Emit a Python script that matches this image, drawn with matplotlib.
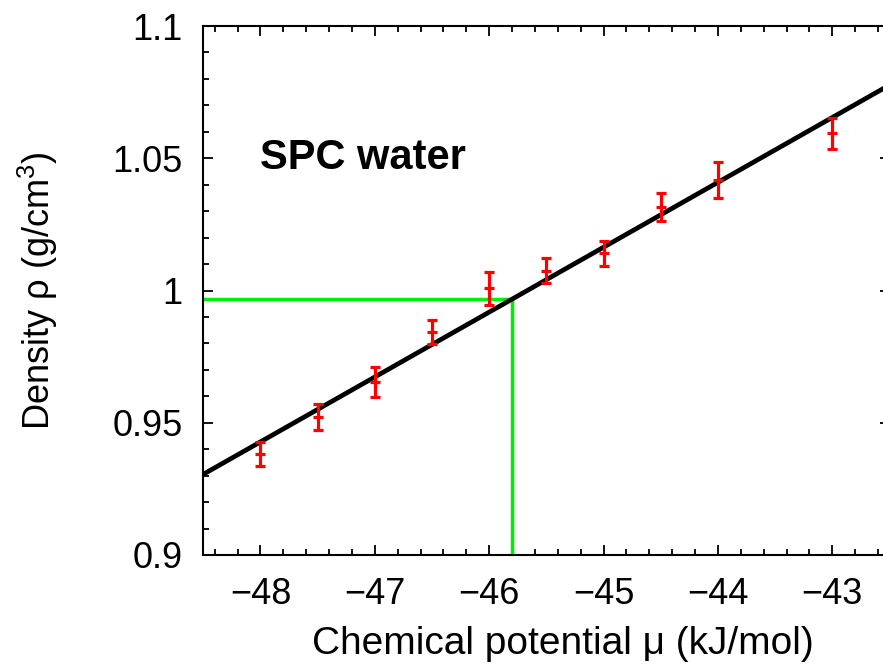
import numpy as np
import matplotlib
matplotlib.use("Agg")
from matplotlib import pyplot as plt
from matplotlib.ticker import MultipleLocator

plt.rcParams['font.family'] = ['Liberation Sans', 'DejaVu Sans']
plt.rcParams['mathtext.fontset'] = 'custom'
plt.rcParams['mathtext.rm'] = 'Liberation Sans'
plt.rcParams['mathtext.default'] = 'regular'

# измеренные точки: химпотенциал, плотность, погрешность
mu = [-48.0, -47.5, -47.0, -46.5, -46.0, -45.5, -45.0, -44.5, -44.0, -43.0]
rho = [0.9382, 0.9523, 0.9655, 0.9844, 1.0008, 1.0075, 1.0141, 1.0315, 1.0418, 1.0594]
rho_err = [0.0046, 0.0049, 0.0057, 0.0045, 0.0063, 0.0047, 0.0047, 0.0054, 0.0069, 0.0059]

# линейная аппроксимация
fit_mu = [-48.5, -42.5]
fit_rho = [0.9305, 1.0777]

# точка пересечения (плотность 0.9968)
mu_cross = -45.80
rho_cross = 0.9968

fig = plt.figure(figsize=(8.83, 6.64), dpi=100)
ax = fig.add_axes([0.2302, 0.1642, 0.7772, 0.7966])

ax.plot([fit_mu[0], mu_cross], [rho_cross, rho_cross], color='#00ee00', lw=2.5, zorder=2)
ax.plot([mu_cross, mu_cross], [0.9, rho_cross], color='#00ee00', lw=2.5, zorder=2)
ax.plot(fit_mu, fit_rho, color='k', lw=3.4, zorder=3)
ax.errorbar(mu, rho, yerr=rho_err, fmt='_', color='#ff0000', ecolor='#ff0000',
            elinewidth=2.3, capsize=3.5, capthick=2.3, markersize=7, mew=2.3, zorder=4)

ax.text(-48.0, 1.05, 'SPC water', fontsize=30, fontweight='bold', ha='left', va='center')

ax.set_xlim(-48.5, -42.5)
ax.set_ylim(0.9, 1.1)
ax.xaxis.set_major_locator(MultipleLocator(1))
ax.xaxis.set_minor_locator(MultipleLocator(0.2))
ax.yaxis.set_major_locator(MultipleLocator(0.05))
ax.yaxis.set_minor_locator(MultipleLocator(0.01))
ax.set_yticks([0.9, 0.95, 1.0, 1.05, 1.1])
ax.set_yticklabels(['0.9', '0.95', '1', '1.05', '1.1'])
ax.set_xticks([-48, -47, -46, -45, -44, -43])
ax.set_xticklabels(['\u221248', '\u221247', '\u221246', '\u221245', '\u221244', '\u221243'])

ax.tick_params(which='both', direction='in', top=True, right=True, width=1.3)
ax.tick_params(which='major', length=7, labelsize=26)
ax.tick_params(which='minor', length=4)
ax.tick_params(axis='y', which='major', pad=15)
ax.tick_params(axis='x', which='major', pad=16)
for s in ax.spines.values():
    s.set_linewidth(1.5)

ax.set_xlabel('Chemical potential \u03bc (kJ/mol)', fontsize=28)
ax.set_ylabel('Density \u03c1 (g/cm$^3$)', fontsize=26)
ax.xaxis.set_label_coords(0.5246, -0.169)
ax.xaxis.label.set_va('center')
ax.yaxis.set_label_coords(-0.241, 0.5)
ax.yaxis.label.set_va('center')

fig.savefig('out.png', dpi=100)
